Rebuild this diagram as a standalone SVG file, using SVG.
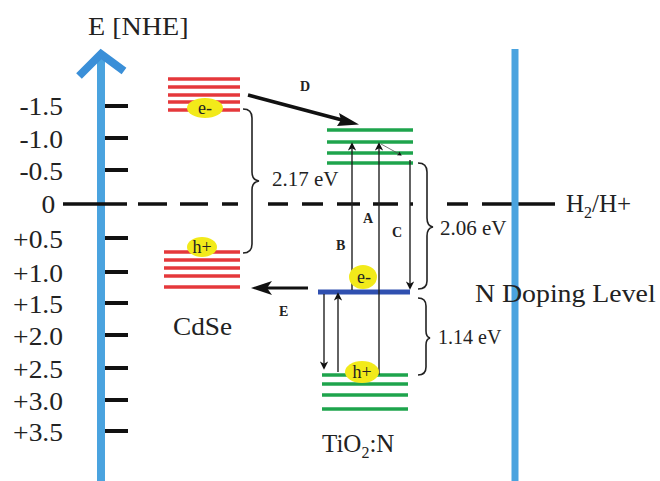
<svg xmlns="http://www.w3.org/2000/svg" width="660" height="481" viewBox="0 0 660 481" font-family="'Liberation Serif','DejaVu Serif',serif">
<defs>
<style>
text{font-family:"Liberation Serif","Times New Roman","DejaVu Serif",serif;fill:#222}
.tl{font-size:25px;text-anchor:end}
.big{font-size:26px}
.ev{font-size:21px}
.lab{font-size:14px;font-weight:bold}
.pc{font-size:18px;text-anchor:middle}
.tick{stroke:#111;stroke-width:4}
.red{stroke:#e5383b;stroke-width:3.5}
.grn{stroke:#1ea44c;stroke-width:3.5}
.thin{stroke:#222;stroke-width:1.4;fill:none}
.brace{stroke:#222;stroke-width:1.6;fill:none}
.blob{fill:#f2ea1a}
</style>
<marker id="ahb" viewBox="0 0 10 10" refX="8" refY="5" markerWidth="6" markerHeight="6" orient="auto"><path d="M0,0 L10,5 L0,10 L3,5 Z" fill="#111"/></marker>
</defs>
<rect width="660" height="481" fill="#fff"/>

<g id="axis">
<line x1="101" y1="54" x2="101" y2="481" stroke="#4aa3df" stroke-width="8"/>
<polyline points="79,76 101,54 124,71" fill="none" stroke="#3a8fd8" stroke-width="8" stroke-linejoin="miter"/>
<text x="88" y="35" class="big" transform="translate(88 0) scale(1.08 1) translate(-88 0)">E [NHE]</text>
<g class="tick">
<line x1="105" y1="106" x2="128" y2="106"/>
<line x1="105" y1="138" x2="128" y2="138"/>
<line x1="105" y1="170" x2="128" y2="170"/>
<line x1="105" y1="238" x2="128" y2="238"/>
<line x1="105" y1="272" x2="128" y2="272"/>
<line x1="105" y1="303" x2="128" y2="303"/>
<line x1="105" y1="335" x2="128" y2="335"/>
<line x1="105" y1="368" x2="128" y2="368"/>
<line x1="105" y1="400" x2="128" y2="400"/>
<line x1="105" y1="431" x2="128" y2="431"/>
</g>
<g transform="translate(63 0) scale(1.1 1) translate(-63 0)">
<text class="tl" x="63" y="115">-1.5</text>
<text class="tl" x="63" y="148">-1.0</text>
<text class="tl" x="63" y="180">-0.5</text>
<text class="tl" x="56" y="213">0</text>
<text class="tl" x="63" y="248">+0.5</text>
<text class="tl" x="63" y="282">+1.0</text>
<text class="tl" x="63" y="313">+1.5</text>
<text class="tl" x="63" y="345">+2.0</text>
<text class="tl" x="63" y="378">+2.5</text>
<text class="tl" x="63" y="410">+3.0</text>
<text class="tl" x="63" y="441">+3.5</text>
</g>
</g>

<g id="h2-level">
<path d="M63,204H127M138,204H167M180,204H208M222,204H238M268,204H288M302,204H323M337,204H360M373,204H398M410,204H413M447,204H468M482,204H555" stroke="#111" stroke-width="3.5"/>
<text x="566" y="212" font-size="25">H<tspan font-size="16" dy="6">2</tspan><tspan dy="-6">/H+</tspan></text>
</g>

<g id="n-doping">
<line x1="515" y1="49" x2="515" y2="481" stroke="#4aa3df" stroke-width="7"/>
<text x="475" y="302" class="big" transform="translate(475 0) scale(1.07 1) translate(-475 0)">N Doping Level</text>
</g>

<g id="cdse">
<g class="red">
<line x1="168" y1="79" x2="240" y2="79"/>
<line x1="168" y1="87" x2="240" y2="87"/>
<line x1="168" y1="95" x2="240" y2="95"/>
<line x1="168" y1="102" x2="240" y2="102"/>
<line x1="168" y1="110" x2="240" y2="110"/>
<line x1="164" y1="252" x2="240" y2="252"/>
<line x1="164" y1="260" x2="240" y2="260"/>
<line x1="164" y1="268" x2="240" y2="268"/>
<line x1="164" y1="276" x2="240" y2="276"/>
<line x1="164" y1="287" x2="240" y2="287"/>
</g>
<ellipse class="blob" cx="205" cy="108" rx="18" ry="10"/>
<text x="205" y="114" class="pc">e-</text>
<ellipse class="blob" cx="202" cy="247" rx="15" ry="10"/>
<text x="202" y="253" class="pc">h+</text>
<text x="173" y="335" class="big" transform="translate(173 0) scale(1.05 1) translate(-173 0)">CdSe</text>
</g>

<g id="tio2">
<g class="grn">
<line x1="327" y1="130" x2="413" y2="130"/>
<line x1="327" y1="142" x2="413" y2="142"/>
<line x1="327" y1="153" x2="413" y2="153"/>
<line x1="327" y1="163" x2="413" y2="163"/>
<line x1="322" y1="375" x2="408" y2="375"/>
<line x1="322" y1="384" x2="408" y2="384"/>
<line x1="322" y1="395" x2="408" y2="395"/>
<line x1="322" y1="409" x2="408" y2="409"/>
</g>
<text x="322" y="452" font-size="25">TiO<tspan font-size="16" dy="6">2</tspan><tspan dy="-6">:N</tspan></text>
</g>

<g id="doping-level">
<line x1="318" y1="292" x2="410" y2="292" stroke="#3050b0" stroke-width="5"/>
</g>

<g id="connectors">
<line x1="248" y1="95" x2="342" y2="120" stroke="#111" stroke-width="3.5"/>
<path d="M359,124.5 L337,126 L341,120 L339,113 Z" fill="#111"/>
<line x1="308" y1="288" x2="266" y2="288" stroke="#111" stroke-width="3"/>
<path d="M251,288 L272,281 L267,288 L272,295 Z" fill="#111"/>
<line class="thin" x1="352" y1="290" x2="352" y2="144" marker-end="url(#ahb)"/>
<line class="thin" x1="379" y1="375" x2="379" y2="144" marker-end="url(#ahb)"/>
<line class="thin" x1="410" y1="160" x2="410" y2="288" marker-end="url(#ahb)"/>
<line x1="381" y1="144" x2="401" y2="155" stroke="#555" stroke-width="0.8" marker-end="url(#ahb)"/>
<line class="thin" x1="324" y1="294" x2="324" y2="368" marker-end="url(#ahb)"/>
<line class="thin" x1="338" y1="372" x2="338" y2="294" marker-end="url(#ahb)"/>
<path class="brace" d="M243,109 Q252,109 252,118 L252,172 Q252,180 259,181 Q252,182 252,190 L252,244 Q252,253 243,253"/>
<path class="brace" d="M418,163 Q427,163 427,172 L427,218 Q427,226 433,227 Q427,228 427,236 L427,281 Q427,289 418,289"/>
<path class="brace" d="M418,298 Q426,298 426,306 L426,331 Q426,337 430,338 Q426,339 426,345 L426,367 Q426,375 418,375"/>
<text x="300" y="91" class="lab">D</text>
<text x="363" y="223" class="lab">A</text>
<text x="336" y="250" class="lab">B</text>
<text x="392" y="237" class="lab">C</text>
<text x="279" y="316" class="lab">E</text>
<ellipse class="blob" cx="363" cy="277" rx="14" ry="12"/>
<text x="364" y="283" class="pc">e-</text>
<ellipse class="blob" cx="362" cy="372" rx="17" ry="11"/>
<text x="362" y="378" class="pc">h+</text>
<text x="272" y="186" class="ev">2.17 eV</text>
<text x="440" y="235" class="ev">2.06 eV</text>
<text x="438" y="344" font-size="20">1.14 eV</text>
</g>
</svg>
